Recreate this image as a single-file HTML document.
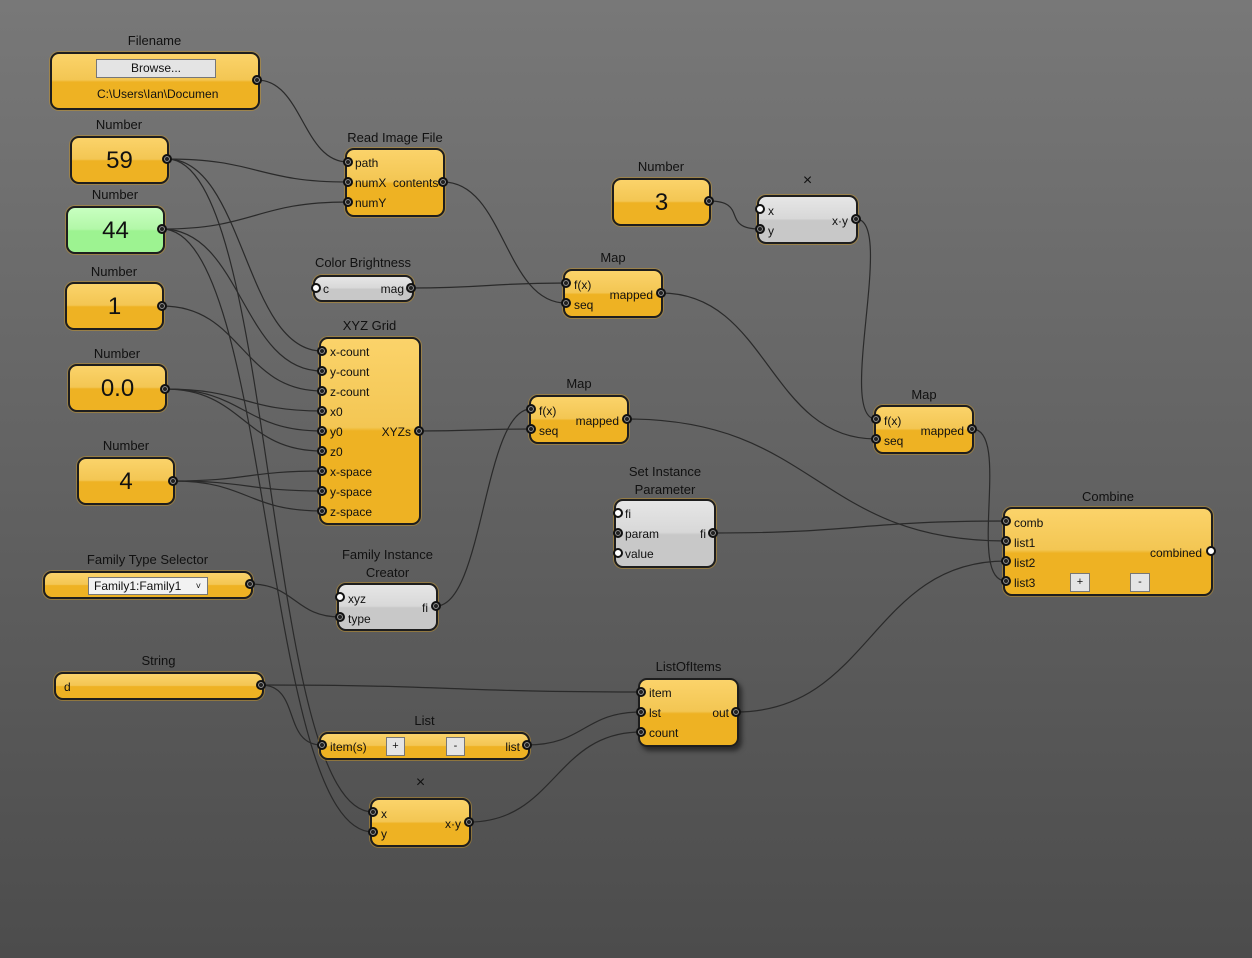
<!DOCTYPE html>
<html><head><meta charset="utf-8"><style>
body{margin:0;width:1252px;height:958px;overflow:hidden;background:linear-gradient(#787878,#4c4c4c);font-family:"Liberation Sans",sans-serif;position:relative}
.n{position:absolute;border:2px solid #1e1e1e;border-radius:9px;box-sizing:border-box;background:linear-gradient(#fbd36a 0%,#f3c653 48%,#eeb223 52%,#eeb223 100%);box-shadow:0 0 0 1px rgba(200,150,40,.5)}
.g{background:linear-gradient(#e6e6e6 0%,#d8d8d8 48%,#c8c8c8 52%,#c8c8c8 100%)}
.gr{background:linear-gradient(#c8ffc0 0%,#b2f7a8 48%,#9df391 52%,#9df391 100%)}
.t{position:absolute;font-size:13px;color:#111;text-align:center;white-space:nowrap}
.x{font-size:16px}
.big{position:absolute;left:0;right:0;text-align:center;font-size:24px;color:#111}
.l{position:absolute;font-size:12px;color:#111;white-space:nowrap}
.p{position:absolute;width:6px;height:6px;border-radius:50%;background:#222;border:2px solid #111;box-shadow:inset 0 0 0 1px #999}
.w{background:#fff;box-shadow:none;border-color:#111}
.b{position:absolute;background:#e4e4e4;border:1px solid #777;font-size:11px;text-align:center;color:#111;box-sizing:border-box}
svg{position:absolute;left:0;top:0}
</style></head><body>
<svg width="1252" height="958" id="s"></svg>
<div class="t" style="left:50px;width:209px;top:33px">Filename</div>
<div class="n" style="left:50px;top:52px;width:210px;height:58px"><div class="b" style="left:44px;top:5px;width:120px;height:19px;line-height:17px;font-size:12px">Browse...</div><div class="l" style="left:45px;top:33px">C:\Users\Ian\Documen</div></div>
<div class="t" style="left:70px;width:98px;top:117px">Number</div>
<div class="n" style="left:70px;top:136px;width:99px;height:48px"><div class="big" style="top:9px">59</div></div>
<div class="t" style="left:66px;width:98px;top:187px">Number</div>
<div class="n gr" style="left:66px;top:206px;width:99px;height:48px"><div class="big" style="top:9px">44</div></div>
<div class="t" style="left:65px;width:98px;top:264px">Number</div>
<div class="n" style="left:65px;top:282px;width:99px;height:48px"><div class="big" style="top:9px">1</div></div>
<div class="t" style="left:68px;width:98px;top:346px">Number</div>
<div class="n" style="left:68px;top:364px;width:99px;height:48px"><div class="big" style="top:9px">0.0</div></div>
<div class="t" style="left:77px;width:98px;top:438px">Number</div>
<div class="n" style="left:77px;top:457px;width:98px;height:48px"><div class="big" style="top:9px">4</div></div>
<div class="t" style="left:43px;width:209px;top:552px">Family Type Selector</div>
<div class="n" style="left:43px;top:571px;width:210px;height:28px"><div class="b" style="left:43px;top:4px;width:120px;height:18px;line-height:17px;font-size:12px;text-align:left;padding-left:5px;background:#f2f2f2">Family1:Family1 <span style="position:absolute;right:6px;font-size:9px">˅</span></div></div>
<div class="t" style="left:54px;width:209px;top:653px">String</div>
<div class="n" style="left:54px;top:672px;width:210px;height:28px"><div class="l" style="left:8px;top:6px">d</div></div>
<div class="t" style="left:330px;width:130px;top:130px">Read Image File</div>
<div class="n" style="left:345px;top:148px;width:100px;height:69px"><div class="l" style="left:8px;top:6px">path</div><div class="l" style="left:8px;top:26px">numX&nbsp; contents</div><div class="l" style="left:8px;top:46px">numY</div></div>
<div class="t" style="left:300px;width:126px;top:255px">Color Brightness</div>
<div class="n g" style="left:313px;top:275px;width:101px;height:27px"><div class="l" style="left:8px;top:5px">c</div><div class="l" style="right:8px;top:5px">mag</div></div>
<div class="t" style="left:319px;width:101px;top:318px">XYZ Grid</div>
<div class="n" style="left:319px;top:337px;width:102px;height:188px;background:linear-gradient(#fbd36a 0%,#f3c653 48%,#eeb223 50%,#eeb223 100%)">
<div class="l" style="left:9px;top:6px">x-count</div><div class="l" style="left:9px;top:26px">y-count</div><div class="l" style="left:9px;top:46px">z-count</div><div class="l" style="left:9px;top:66px">x0</div><div class="l" style="left:9px;top:86px">y0</div><div class="l" style="left:9px;top:106px">z0</div><div class="l" style="left:9px;top:126px">x-space</div><div class="l" style="left:9px;top:146px">y-space</div><div class="l" style="left:9px;top:166px">z-space</div><div class="l" style="right:8px;top:86px">XYZs</div></div>
<div class="t" style="left:320px;width:135px;top:546px;line-height:18px">Family Instance<br>Creator</div>
<div class="n g" style="left:337px;top:583px;width:101px;height:48px"><div class="l" style="left:9px;top:7px">xyz</div><div class="l" style="left:9px;top:27px">type</div><div class="l" style="right:8px;top:16px">fi</div></div>
<div class="t" style="left:319px;width:211px;top:713px">List</div>
<div class="n" style="left:319px;top:732px;width:211px;height:28px"><div class="l" style="left:9px;top:6px">item(s)</div><div class="b" style="left:65px;top:3px;width:19px;height:19px;line-height:17px">+</div><div class="b" style="left:125px;top:3px;width:19px;height:19px;line-height:17px">-</div><div class="l" style="right:8px;top:6px">list</div></div>
<div class="t x" style="left:370px;width:101px;top:774px">×</div>
<div class="n" style="left:370px;top:798px;width:101px;height:49px"><div class="l" style="left:9px;top:7px">x</div><div class="l" style="left:9px;top:27px">y</div><div class="l" style="right:8px;top:17px">x·y</div></div>
<div class="t" style="left:612px;width:98px;top:159px">Number</div>
<div class="n" style="left:612px;top:178px;width:99px;height:48px"><div class="big" style="top:9px">3</div></div>
<div class="t x" style="left:757px;width:101px;top:172px">×</div>
<div class="n g" style="left:757px;top:195px;width:101px;height:49px"><div class="l" style="left:9px;top:7px">x</div><div class="l" style="left:9px;top:27px">y</div><div class="l" style="right:8px;top:17px">x·y</div></div>
<div class="t" style="left:563px;width:100px;top:250px">Map</div>
<div class="n" style="left:563px;top:269px;width:100px;height:49px"><div class="l" style="left:9px;top:7px">f(x)</div><div class="l" style="left:9px;top:27px">seq</div><div class="l" style="right:8px;top:17px">mapped</div></div>
<div class="t" style="left:529px;width:100px;top:376px">Map</div>
<div class="n" style="left:529px;top:395px;width:100px;height:49px"><div class="l" style="left:8px;top:7px">f(x)</div><div class="l" style="left:8px;top:27px">seq</div><div class="l" style="right:8px;top:17px">mapped</div></div>
<div class="t" style="left:874px;width:100px;top:387px">Map</div>
<div class="n" style="left:874px;top:405px;width:100px;height:49px"><div class="l" style="left:8px;top:7px">f(x)</div><div class="l" style="left:8px;top:27px">seq</div><div class="l" style="right:8px;top:17px">mapped</div></div>
<div class="t" style="left:600px;width:130px;top:463px;line-height:18px">Set Instance<br>Parameter</div>
<div class="n g" style="left:614px;top:499px;width:102px;height:69px"><div class="l" style="left:9px;top:6px">fi</div><div class="l" style="left:9px;top:26px">param</div><div class="l" style="left:9px;top:46px">value</div><div class="l" style="right:8px;top:26px">fi</div></div>
<div class="t" style="left:1003px;width:210px;top:489px">Combine</div>
<div class="n" style="left:1003px;top:507px;width:210px;height:89px"><div class="l" style="left:9px;top:7px">comb</div><div class="l" style="left:9px;top:27px">list1</div><div class="l" style="left:9px;top:47px">list2</div><div class="l" style="left:9px;top:67px">list3</div><div class="l" style="right:9px;top:37px">combined</div><div class="b" style="left:65px;top:64px;width:20px;height:19px;line-height:17px">+</div><div class="b" style="left:125px;top:64px;width:20px;height:19px;line-height:17px">-</div></div>
<div class="t" style="left:638px;width:101px;top:659px">ListOfItems</div>
<div class="n" style="left:638px;top:678px;width:101px;height:69px;box-shadow:3px 4px 5px rgba(0,0,0,.5)"><div class="l" style="left:9px;top:6px">item</div><div class="l" style="left:9px;top:26px">lst</div><div class="l" style="left:9px;top:46px">count</div><div class="l" style="right:8px;top:26px">out</div></div>
<div id="ports"></div>
<script>
var W=[[257,80,348,162],[167,159,348,182],[167,159,322,351],[167,159,373,812],[162,229,348,202],[162,229,322,371],[162,229,373,832],[162,306,322,391],[165,389,322,411],[165,389,322,431],[165,389,322,451],[173,481,322,471],[173,481,322,491],[173,481,322,511],[250,584,340,617],[261,685,641,692],[261,685,322,745],[443,182,566,303],[411,288,566,283],[661,293,876,439],[709,201,760,229],[856,219,876,419],[419,431,531,429],[436,606,531,409],[627,419,1006,541],[713,533,1006,521],[972,429,1006,581],[736,712,1006,561],[527,745,641,712],[469,822,641,732]];
var s='';W.forEach(function(w){var d=Math.max(40,Math.abs(w[2]-w[0])*0.5);if(Math.abs(w[3]-w[1])>300)d=110;s+='<path d="M'+w[0]+','+w[1]+' C'+(w[0]+d)+','+w[1]+' '+(w[2]-d)+','+w[3]+' '+w[2]+','+w[3]+'" fill="none" stroke="#2a2a2a" stroke-width="1.2"/>';});
document.getElementById('s').innerHTML=s;
var P=[[257,80],[167,159],[162,229],[162,306],[165,389],[173,481],[250,584],[261,685],[348,162],[348,182],[348,202],[443,182],[411,288],[322,351],[322,371],[322,391],[322,411],[322,431],[322,451],[322,471],[322,491],[322,511],[419,431],[340,617],[436,606],[322,745],[527,745],[373,812],[373,832],[469,822],[709,201],[760,229],[856,219],[566,283],[566,303],[661,293],[531,409],[531,429],[627,419],[876,419],[876,439],[972,429],[618,533],[713,533],[1006,521],[1006,541],[1006,561],[1006,581],[641,692],[641,712],[641,732],[736,712]];
var Wh=[[316,288],[340,597],[760,209],[618,513],[618,553],[1211,551]];
var h='';P.forEach(function(p){h+='<div class="p" style="left:'+(p[0]-5)+'px;top:'+(p[1]-5)+'px"></div>'});
Wh.forEach(function(p){h+='<div class="p w" style="left:'+(p[0]-5)+'px;top:'+(p[1]-5)+'px"></div>'});
document.getElementById('ports').innerHTML=h;
</script>
</body></html>
